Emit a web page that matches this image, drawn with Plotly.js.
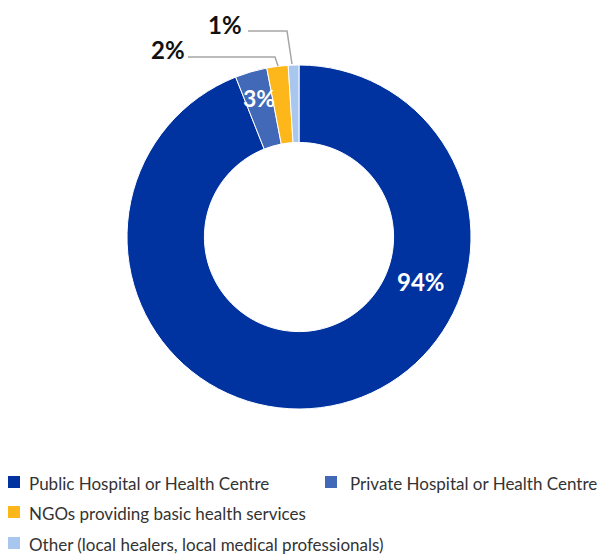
<!DOCTYPE html>
<html>
<head>
<meta charset="utf-8">
<script src="https://cdn.plot.ly/plotly-3.0.1.min.js"></script>
<style>html,body{margin:0;padding:0;background:#fff;}#chart{width:598px;height:556px;}</style>
</head>
<body>
<div id="chart"></div>
<script>
const categories = [
  "Public Hospital or Health Centre",
  "Private Hospital or Health Centre",
  "NGOs providing basic health services",
  "Other (local healers, local medical professionals)"
];
const shares = [94, 3, 2, 1];
const colors = ["#0033A0", "#4169B8", "#FDB71A", "#A8C6EE"];
const pctLabels = shares.map(v => v + "%");

const trace = {
  type: "pie",
  labels: categories,
  values: shares,
  hole: 0.55,
  sort: false,
  direction: "clockwise",
  rotation: 0,
  textinfo: "none",
  marker: { colors: colors, line: { color: "#ffffff", width: 1 } },
  hoverinfo: "label+percent",
  showlegend: false,
  domain: { x: [0, 1], y: [0, 1] }
};

// plot area: 598 x 344 px, top at 65 px
const W = 598, TOP = 65, H = 344;
const px = x => x / W;
const py = y => (TOP + H - y) / H;

const FONT = "Lato, 'Open Sans', sans-serif";

const labelPos = [
  { x: 421, y: 281, color: "#ffffff", size: 24 },
  { x: 259, y: 98, color: "#ffffff", size: 23 },
  { x: 168, y: 50, color: "#111111", size: 24 },
  { x: 225, y: 24, color: "#111111", size: 24 }
];

const annotations = pctLabels.map((t, i) => ({
  text: "<b>" + t + "</b>",
  x: px(labelPos[i].x), y: py(labelPos[i].y),
  xref: "paper", yref: "paper",
  xanchor: "center", yanchor: "middle",
  showarrow: false,
  font: { family: FONT, size: labelPos[i].size, color: labelPos[i].color }
}));

const leader = { color: "#A6A6A6", width: 1.5 };
const shapes = [
  { type: "path", xref: "paper", yref: "paper",
    path: `M${px(188)},${py(57)} L${px(275)},${py(57)} L${px(278)},${py(66)}`, line: leader },
  { type: "path", xref: "paper", yref: "paper",
    path: `M${px(248)},${py(31)} L${px(287)},${py(31)} L${px(292)},${py(64)}`, line: leader }
];

// legend (drawn from categories + colors)
const legendSlots = [
  { sx: 14, tx: 27, y: 482 },
  { sx: 331, tx: 348, y: 482 },
  { sx: 14, tx: 27, y: 512 },
  { sx: 14, tx: 27, y: 543 }
];
categories.forEach((c, i) => {
  const s = legendSlots[i];
  shapes.push({
    type: "rect", xref: "paper", yref: "paper",
    xsizemode: "pixel", ysizemode: "pixel",
    xanchor: px(s.sx), yanchor: py(s.y),
    x0: -6, x1: 6, y0: -6, y1: 6,
    fillcolor: colors[i], line: { width: 0 }
  });
  annotations.push({
    text: c, x: px(s.tx), y: py(s.y + 1),
    xref: "paper", yref: "paper",
    xanchor: "left", yanchor: "middle",
    showarrow: false,
    font: { family: FONT, size: 17, color: "#333333" }
  });
});

const layout = {
  width: 598, height: 556,
  margin: { l: 0, r: 0, t: 65, b: 147, autoexpand: false },
  paper_bgcolor: "#ffffff",
  showlegend: false,
  annotations: annotations,
  shapes: shapes
};

Plotly.newPlot("chart", [trace], layout, { displayModeBar: false, staticPlot: true });
</script>
</body>
</html>
